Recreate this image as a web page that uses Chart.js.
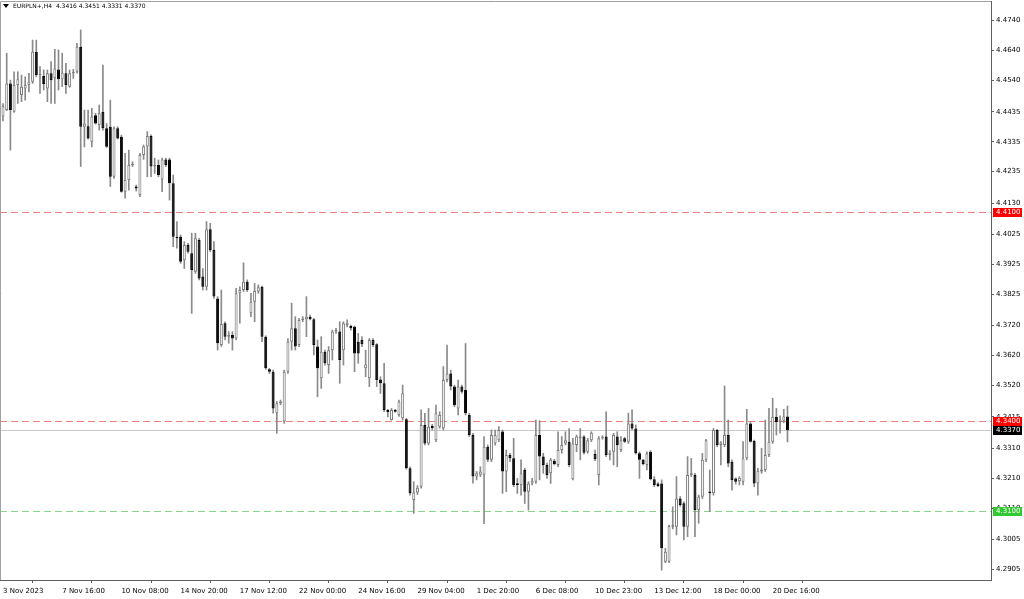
<!DOCTYPE html>
<html>
<head>
<meta charset="utf-8">
<script src="https://cdn.jsdelivr.net/npm/chart.js@4.4.1/dist/chart.umd.min.js"></script>
<style>
html,body{margin:0;padding:0;background:#fff;overflow:hidden}
#caja{width:1024px;height:599px;position:relative}
</style>
</head>
<body>
<div id="caja"><canvas id="grafica"></canvas></div>
<script>
// EURPLN+ H4 velas, 3 Nov - 21 Dec 2023
const opens = [4.4419,4.4441,4.4530,4.4435,4.4525,4.4491,4.4513,4.4525,4.4536,4.4636,4.4558,4.4555,4.4513,4.4564,4.4547,4.4577,4.4544,4.4564,4.4519,4.4564,
4.4569,4.4653,4.4385,4.4387,4.4335,4.4424,4.4391,4.4435,4.4380,4.4385,4.4218,4.4380,4.4352,4.4168,4.4207,4.4257,4.4185,4.4157,4.4291,4.4319,
4.4354,4.4252,4.4257,4.4209,4.4276,4.4276,4.4196,4.4017,4.4017,4.3939,4.3990,4.3962,4.3900,4.4006,4.3884,4.3850,4.4042,4.3973,4.3811,4.3655,
4.3728,4.3683,4.3689,4.3677,4.3828,4.3839,4.3867,4.3761,4.3800,4.3834,4.3850,4.3683,4.3574,4.3566,4.3427,4.3460,4.3399,4.3566,4.3666,4.3711,
4.3655,4.3739,4.3741,4.3750,4.3741,4.3650,4.3544,4.3633,4.3588,4.3638,4.3700,4.3700,4.3638,4.3722,4.3719,4.3716,4.3666,4.3672,4.3577,4.3544,
4.3672,4.3658,4.3540,4.3527,4.3438,4.3404,4.3438,4.3421,4.3410,4.3407,4.3243,4.3137,4.3162,4.3181,4.3388,4.3326,4.3384,4.3337,4.3382,4.3377,
4.3538,4.3560,4.3516,4.3443,4.3516,4.3505,4.3421,4.3354,4.3215,4.3221,4.3221,4.3315,4.3271,4.3326,4.3337,4.3366,4.3232,4.3287,4.3276,4.3193,
4.3187,4.3237,4.3164,4.3192,4.3198,4.3354,4.3282,4.3254,4.3226,4.3268,4.3254,4.3304,4.3326,4.3332,4.3206,4.3321,4.3343,4.3349,4.3298,4.3337,
4.3291,4.3220,4.3343,4.3349,4.3287,4.3298,4.3349,4.3304,4.3343,4.3332,4.3393,4.3376,4.3293,4.3271,4.3254,4.3298,4.3206,4.3192,4.3192,4.2930,
4.2930,4.3047,4.3047,4.3142,4.3126,4.3047,4.3220,4.3220,4.3103,4.3148,4.3271,4.3165,4.3159,4.3371,4.3321,4.3321,4.3354,4.3265,4.3209,4.3200,
4.3198,4.3276,4.3393,4.3334,4.3192,4.3232,4.3237,4.3287,4.3332,4.3415,4.3398,4.3402,4.3416];
const highs = [4.4463,4.4631,4.4541,4.4569,4.4569,4.4558,4.4552,4.4564,4.4675,4.4675,4.4586,4.4575,4.4575,4.4603,4.4644,4.4642,4.4631,4.4597,4.4575,4.4577,
4.4664,4.4709,4.4441,4.4441,4.4447,4.4430,4.4458,4.4591,4.4396,4.4474,4.4385,4.4385,4.4357,4.4296,4.4307,4.4268,4.4190,4.4296,4.4324,4.4369,
4.4358,4.4280,4.4274,4.4280,4.4280,4.4280,4.4224,4.4068,4.4023,4.4001,4.3995,4.4029,4.4029,4.4012,4.3911,4.4068,4.4062,4.4001,4.3817,4.3839,
4.3733,4.3700,4.3700,4.3845,4.3850,4.3930,4.3873,4.3828,4.3861,4.3856,4.3852,4.3686,4.3577,4.3571,4.3466,4.3471,4.3571,4.3677,4.3795,4.3750,
4.3744,4.3750,4.3817,4.3755,4.3744,4.3672,4.3683,4.3638,4.3650,4.3705,4.3711,4.3733,4.3733,4.3739,4.3722,4.3719,4.3694,4.3683,4.3638,4.3677,
4.3677,4.3660,4.3549,4.3594,4.3440,4.3443,4.3440,4.3471,4.3521,4.3410,4.3248,4.3198,4.3185,4.3438,4.3427,4.3443,4.3390,4.3454,4.3432,4.3583,
4.3655,4.3571,4.3521,4.3538,4.3521,4.3660,4.3427,4.3360,4.3232,4.3248,4.3349,4.3321,4.3371,4.3371,4.3382,4.3371,4.3304,4.3293,4.3343,4.3209,
4.3271,4.3243,4.3198,4.3209,4.3404,4.3402,4.3293,4.3260,4.3276,4.3273,4.3365,4.3349,4.3365,4.3376,4.3343,4.3354,4.3376,4.3352,4.3343,4.3365,
4.3304,4.3349,4.3352,4.3432,4.3302,4.3360,4.3365,4.3349,4.3346,4.3427,4.3438,4.3388,4.3298,4.3273,4.3298,4.3302,4.3215,4.3195,4.3204,4.2975,
4.3053,4.3114,4.3215,4.3148,4.3131,4.3282,4.3276,4.3226,4.3153,4.3293,4.3340,4.3237,4.3376,4.3373,4.3332,4.3518,4.3404,4.3271,4.3211,4.3215,
4.3332,4.3440,4.3398,4.3337,4.3243,4.3310,4.3404,4.3443,4.3477,4.3443,4.3418,4.3440,4.3451];
const lows = [4.4405,4.4439,4.4307,4.4433,4.4463,4.4469,4.4474,4.4502,4.4530,4.4552,4.4497,4.4508,4.4469,4.4463,4.4463,4.4508,4.4519,4.4497,4.4517,4.4547,
4.4564,4.4252,4.4318,4.4344,4.4318,4.4394,4.4374,4.4374,4.4316,4.4185,4.4212,4.4344,4.4166,4.4146,4.4173,4.4252,4.4170,4.4151,4.4276,4.4218,
4.4218,4.4229,4.4218,4.4168,4.4252,4.4140,4.3984,4.3979,4.3928,4.3911,4.3962,4.3761,4.3895,4.3873,4.3839,4.3839,4.3967,4.3811,4.3638,4.3650,
4.3672,4.3661,4.3638,4.3672,4.3728,4.3834,4.3834,4.3750,4.3733,4.3828,4.3666,4.3574,4.3560,4.3427,4.3360,4.3455,4.3393,4.3560,4.3638,4.3638,
4.3650,4.3733,4.3683,4.3739,4.3622,4.3482,4.3510,4.3588,4.3560,4.3605,4.3694,4.3527,4.3588,4.3716,4.3705,4.3566,4.3594,4.3650,4.3549,4.3516,
4.3650,4.3516,4.3493,4.3432,4.3415,4.3404,4.3430,4.3416,4.3404,4.3240,4.3153,4.3092,4.3155,4.3176,4.3321,4.3321,4.3371,4.3332,4.3377,4.3371,
4.3532,4.3505,4.3449,4.3421,4.3494,4.3421,4.3349,4.3193,4.3204,4.3215,4.3058,4.3265,4.3265,4.3320,4.3332,4.3159,4.3165,4.3265,4.3181,4.3159,
4.3153,4.3125,4.3103,4.3187,4.3192,4.3204,4.3226,4.3209,4.3192,4.3254,4.3248,4.3293,4.3321,4.3248,4.3204,4.3298,4.3271,4.3290,4.3293,4.3332,
4.3268,4.3187,4.3340,4.3282,4.3271,4.3254,4.3248,4.3298,4.3329,4.3326,4.3371,4.3290,4.3209,4.3254,4.3237,4.3204,4.3181,4.3181,4.2902,4.2927,
4.2927,4.3040,4.3020,4.3115,4.3003,4.3014,4.3215,4.3014,4.3059,4.3142,4.3265,4.3098,4.3153,4.3315,4.3254,4.3315,4.3248,4.3170,4.3190,4.3187,
4.3187,4.3271,4.3330,4.3181,4.3153,4.3226,4.3232,4.3282,4.3326,4.3354,4.3360,4.3395,4.3331];
const closes = [4.4454,4.4530,4.4441,4.4525,4.4544,4.4519,4.4525,4.4536,4.4636,4.4558,4.4560,4.4528,4.4564,4.4541,4.4580,4.4544,4.4566,4.4525,4.4564,4.4569,
4.4653,4.4385,4.4396,4.4346,4.4419,4.4396,4.4430,4.4380,4.4318,4.4218,4.4380,4.4346,4.4168,4.4207,4.4257,4.4259,4.4179,4.4291,4.4319,4.4354,
4.4252,4.4257,4.4224,4.4276,4.4257,4.4196,4.4017,4.4012,4.3934,4.3990,4.3967,4.3906,4.4012,4.3878,4.3850,4.4042,4.3973,4.3817,4.3661,4.3725,
4.3683,4.3689,4.3677,4.3828,4.3839,4.3867,4.3839,4.3800,4.3836,4.3848,4.3683,4.3577,4.3566,4.3443,4.3460,4.3466,4.3566,4.3666,4.3711,4.3650,
4.3739,4.3744,4.3750,4.3741,4.3655,4.3577,4.3633,4.3594,4.3638,4.3700,4.3705,4.3605,4.3728,4.3730,4.3711,4.3627,4.3627,4.3658,4.3590,4.3672,
4.3655,4.3538,4.3527,4.3438,4.3430,4.3438,4.3432,4.3466,4.3494,4.3243,4.3159,4.3162,4.3178,4.3388,4.3326,4.3382,4.3377,4.3427,4.3421,4.3538,
4.3560,4.3516,4.3454,4.3516,4.3499,4.3427,4.3354,4.3215,4.3226,4.3232,4.3315,4.3271,4.3354,4.3354,4.3371,4.3232,4.3287,4.3276,4.3187,4.3187,
4.3226,4.3164,4.3192,4.3201,4.3354,4.3282,4.3254,4.3220,4.3271,4.3257,4.3304,4.3321,4.3337,4.3254,4.3326,4.3349,4.3349,4.3295,4.3337,4.3362,
4.3273,4.3343,4.3347,4.3287,4.3295,4.3354,4.3321,4.3337,4.3332,4.3393,4.3376,4.3293,4.3271,4.3257,4.3293,4.3206,4.3187,4.3184,4.2975,4.2964,
4.3050,4.3053,4.3142,4.3120,4.3047,4.3220,4.3226,4.3103,4.3148,4.3271,4.3337,4.3159,4.3371,4.3321,4.3329,4.3354,4.3259,4.3204,4.3198,4.3211,
4.3276,4.3393,4.3332,4.3192,4.3235,4.3239,4.3287,4.3332,4.3415,4.3398,4.3405,4.3416,4.3370];

const etiquetasTiempo = ["3 Nov 2023","7 Nov 16:00","10 Nov 08:00","14 Nov 20:00","17 Nov 12:00","22 Nov 00:00","24 Nov 16:00",
  "29 Nov 04:00","1 Dec 20:00","6 Dec 08:00","10 Dec 23:00","13 Dec 12:00","18 Dec 00:00","20 Dec 16:00"];
const posTiempo = [0,16,32,48,64,80,96,112,128,144,160,176,192,208];
const ticksPrecio = [4.4740,4.4640,4.4540,4.4435,4.4335,4.4235,4.4130,4.4025,4.3925,4.3825,4.3720,4.3620,4.3520,4.3415,4.3310,4.3210,4.3110,4.3005,4.2905];
const niveles = [4.4100,4.3400,4.3370,4.3100];
const cabecera = ["EURPLN+,H4","4.3416","4.3451","4.3331","4.3370"];

const ESTILO_NIVEL = [
  {linea:"#ee8080", dash:[7,4], caja:"#ff0000", texto:"#fff"},
  {linea:"#ee8080", dash:[7,4], caja:"#ff0000", texto:"#fff"},
  {linea:"#c8c8c8", dash:[],    caja:"#000000", texto:"#fff"},
  {linea:"#88d488", dash:[7,4], caja:"#32c832", texto:"#fff"}
];
const FUENTE = {family:"DejaVu Sans", size:7};

window.onload = ()=>{
  const mechas = highs.map((h,i)=>({x:i, y:[lows[i], h]}));
  const cuerpos = opens.map((o,i)=>({x:i, y:[o, closes[i]]}));
  const alcista = opens.map((o,i)=>closes[i] >= o);

  const extras = {
    id:"extras",
    beforeDatasetsDraw(chart){
      const {ctx, chartArea:a, scales:{y}} = chart;
      ctx.save();
      ctx.lineWidth = 1;
      niveles.forEach((v,k)=>{
        const py = Math.round(y.getPixelForValue(v)) + 0.5;
        ctx.strokeStyle = ESTILO_NIVEL[k].linea;
        ctx.setLineDash(ESTILO_NIVEL[k].dash);
        ctx.beginPath(); ctx.moveTo(a.left, py); ctx.lineTo(a.right, py); ctx.stroke();
      });
      ctx.restore();
    },
    afterDraw(chart){
      const {ctx, chartArea:a, scales:{y}} = chart;
      ctx.save();
      // marco superior e izquierdo
      ctx.strokeStyle = "#a0a0a0"; ctx.lineWidth = 1;
      ctx.beginPath(); ctx.moveTo(a.right, a.top+0.5); ctx.lineTo(a.left+0.5, a.top+0.5); ctx.lineTo(a.left+0.5, a.bottom); ctx.stroke();
      // cajas de precio en el eje
      ctx.font = FUENTE.size + "px " + FUENTE.family;
      ctx.textBaseline = "middle"; ctx.textAlign = "left";
      niveles.forEach((v,k)=>{
        const py = Math.round(y.getPixelForValue(v));
        ctx.fillStyle = ESTILO_NIVEL[k].caja;
        ctx.fillRect(a.right+2, py-4, 29, 9);
        ctx.fillStyle = ESTILO_NIVEL[k].texto;
        ctx.fillText(v.toFixed(4), a.right+5, py+0.5);
      });
      // cabecera
      ctx.fillStyle = "#000";
      ctx.beginPath(); ctx.moveTo(3,4); ctx.lineTo(9,4); ctx.lineTo(6,8); ctx.closePath(); ctx.fill();
      ctx.font = "6px " + FUENTE.family;
      ctx.fillText(cabecera[0] + "  " + cabecera.slice(1).join(" "), 13, 6.5);
      ctx.restore();
    }
  };

  const ctx = document.getElementById("grafica").getContext("2d");
  new Chart(ctx, {
    type:"bar",
    data:{
      datasets:[
        {
          label:"cuerpos", data:cuerpos, order:0, grouped:false,
          backgroundColor: alcista.map(b=>b ? "#ffffff" : "#000000"),
          borderColor: alcista.map(b=>b ? "#7c7c7c" : "#000000"),
          borderWidth:1, borderSkipped:false, minBarLength:1,
          barPercentage:1, categoryPercentage:0.81, maxBarThickness:3
        },
        {
          label:"mechas", data:mechas, order:1, grouped:false,
          backgroundColor:"#8a8a8a", borderWidth:0,
          barPercentage:1, categoryPercentage:1, maxBarThickness:1
        }
      ]
    },
    options:{
      responsive:true, maintainAspectRatio:false, animation:false,
      layout:{padding:{top:1, left:0, right:0, bottom:0}},
      plugins:{legend:{display:false}, tooltip:{enabled:false}},
      scales:{
        x:{
          type:"linear", position:"bottom", offset:false,
          min:-0.81, max:267.0,
          afterBuildTicks:(s)=>{ s.ticks = posTiempo.map(v=>({value:v})); },
          afterFit:(s)=>{ s.height = 19; s.paddingLeft = 0; s.paddingRight = 0; },
          ticks:{autoSkip:false, maxRotation:0, minRotation:0, align:"start", padding:4,
                 font:FUENTE, color:"#000", callback:(v,i)=>etiquetasTiempo[i]},
          grid:{drawOnChartArea:false, drawTicks:true, tickLength:3, color:"#606060"},
          border:{display:true, color:"#606060"}
        },
        y:{
          type:"linear", position:"right",
          min:4.28692, max:4.48057,
          afterBuildTicks:(s)=>{ s.ticks = ticksPrecio.map(v=>({value:v})); },
          afterFit:(s)=>{ s.width = 33; s.paddingTop = 0; s.paddingBottom = 0; },
          ticks:{font:FUENTE, color:"#000", padding:2, callback:(v)=>v.toFixed(4)},
          grid:{drawOnChartArea:false, drawTicks:true, tickLength:3, color:"#606060"},
          border:{display:true, color:"#606060"}
        }
      }
    },
    plugins:[extras]
  });
};
</script>
</body>
</html>
